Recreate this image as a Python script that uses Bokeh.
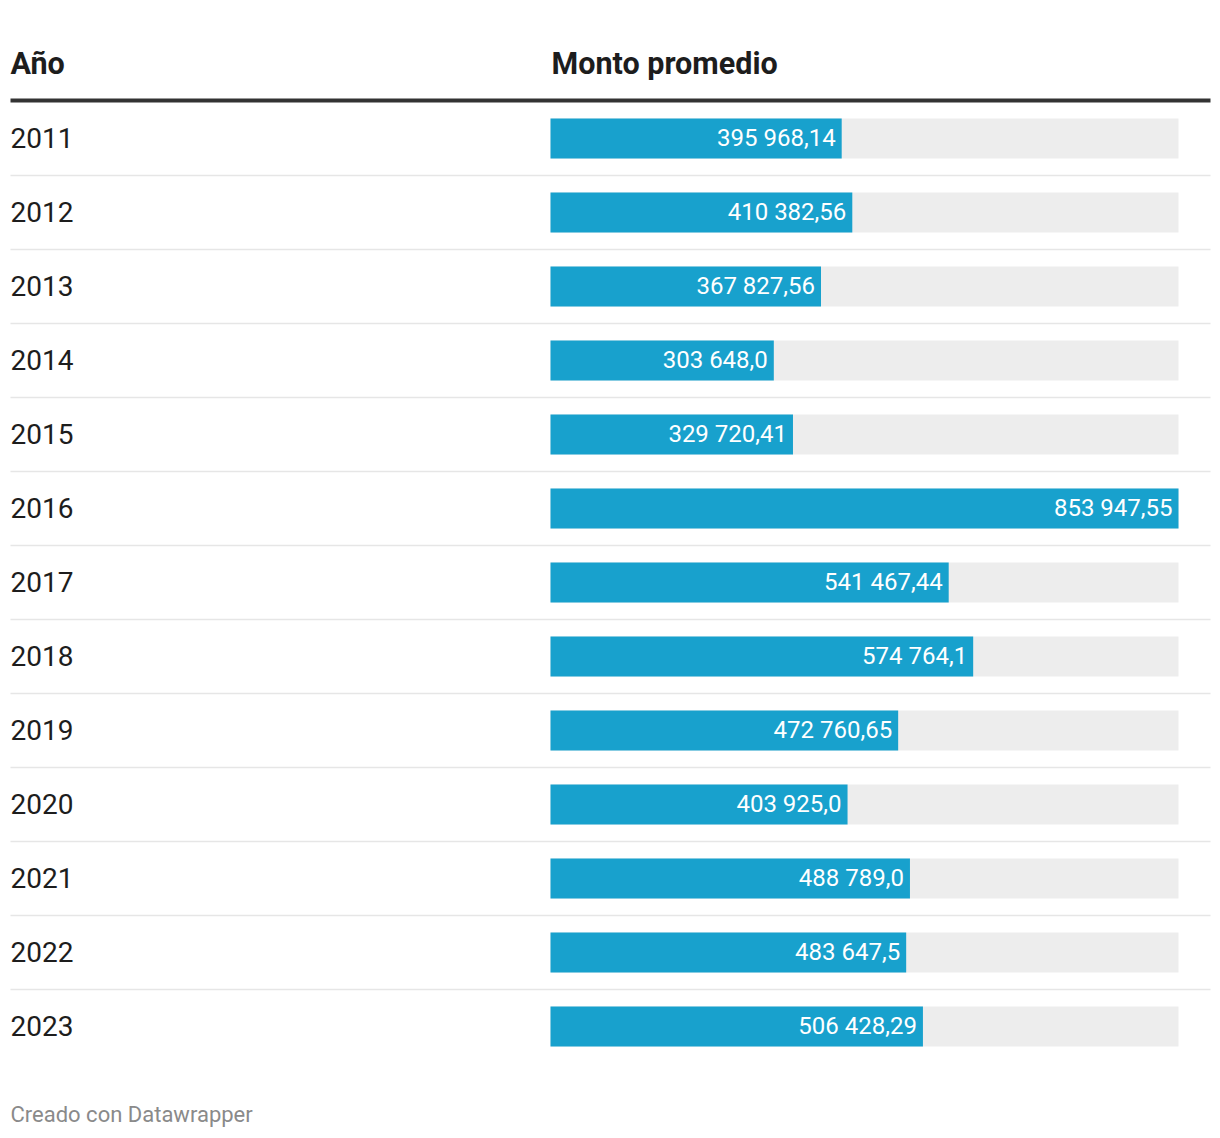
from bokeh.plotting import figure
from bokeh.models import Range1d, ColumnDataSource
from bokeh.core.properties import value
from bokeh.embed import file_html
from bokeh.resources import INLINE

years = ["2011", "2012", "2013", "2014", "2015", "2016", "2017", "2018",
         "2019", "2020", "2021", "2022", "2023"]
amounts = [395968.14, 410382.56, 367827.56, 303648.0, 329720.41, 853947.55,
           541467.44, 574764.1, 472760.65, 403925.0, 488789.0, 483647.5, 506428.29]
amount_labels = ["395 968,14", "410 382,56", "367 827,56", "303 648,0", "329 720,41",
                 "853 947,55", "541 467,44", "574 764,1", "472 760,65", "403 925,0",
                 "488 789,0", "483 647,5", "506 428,29"]
col_headers = ["Año", "Monto promedio"]
footer = "Creado con Datawrapper"

W, H = 1214, 1130
ROW = 74.0
vmax = max(amounts)
# page px layout (figure rendered at page origin)
left_px, bar0_px, bar1_px = 0, 550, 1178
row0_px = 138

def px_to_row(py):
    return (py - row0_px) / ROW

p = figure(width=W, height=H, output_backend="svg", toolbar_location=None,
           x_range=Range1d(left_px, left_px + W),
           y_range=Range1d(px_to_row(left_px + H), px_to_row(left_px)),
           min_border=0, outline_line_color=None, background_fill_color="white",
           border_fill_color="white")
p.axis.visible = False
p.grid.visible = False

# value range mapped so 0 -> bar0_px and vmax -> bar1_px
scale = vmax / (bar1_px - bar0_px)
p.extra_x_ranges = {"val": Range1d((left_px - bar0_px) * scale, (left_px + W - bar0_px) * scale)}

n = len(years)
rows = list(range(n))
src = ColumnDataSource(dict(y=rows, year=years, amt=amounts, lab=amount_labels,
                            mx=[vmax] * n))

BH = 40 / ROW
# background track
p.hbar(y="y", left=0, right="mx", height=BH, source=src, x_range_name="val",
       fill_color="#ededed", line_color=None)
# bars
p.hbar(y="y", left=0, right="amt", height=BH, source=src, x_range_name="val",
       fill_color="#18a1cd", line_color=None)
# value labels
p.text(x="amt", y="y", text="lab", source=src, x_range_name="val",
       text_align="right", text_baseline="middle", x_offset=-6, y_offset=-1,
       text_color="white", text_font=value("Roboto"), text_font_size="24px")
# year labels
p.text(x=10, y="y", text="year", source=src, text_align="left",
       text_baseline="middle", text_color="#1d1d1d", y_offset=-1,
       text_font=value("Roboto"), text_font_size="28px")

# separators
sep_y = [r + 0.5 for r in rows[:-1]]
p.segment(x0=10, x1=1210, y0=sep_y, y1=sep_y, line_color="#e6e6e6", line_width=1.5)

# header
p.text(x=[10, 551], y=[px_to_row(63)] * 2, text=col_headers, text_align="left",
       text_baseline="middle", text_color="#1d1d1d", text_font=value("Roboto"),
       text_font_style="bold", text_font_size="30.5px")
p.segment(x0=[10], x1=[1210], y0=[px_to_row(100)], y1=[px_to_row(100)],
          line_color="#333333", line_width=4)

# footer
p.text(x=[10], y=[px_to_row(1114)], text=[footer], text_align="left",
       text_baseline="middle", text_color="#8a8a8a", text_font=value("Roboto"),
       text_font_size="22px")

open("out.html", "w").write(file_html(p, INLINE))
